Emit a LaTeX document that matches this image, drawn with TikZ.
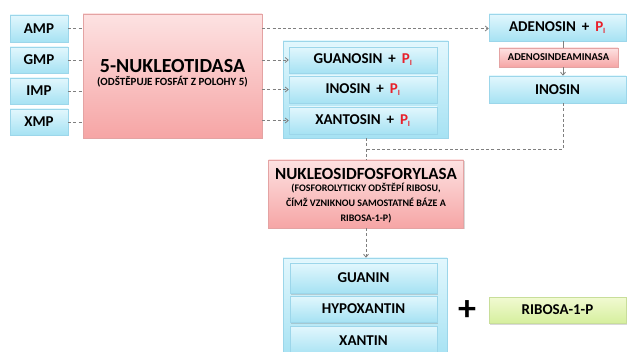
\documentclass[tikz,border=0pt]{standalone}
\usepackage{fontspec}
\setmainfont{Carlito}
\usetikzlibrary{arrows.meta,shadows}
\definecolor{bluetop}{HTML}{E2F7FD}
\definecolor{bluebot}{HTML}{A6E2F3}
\definecolor{blueline}{HTML}{9CD6EA}
\definecolor{pinktop}{HTML}{FDE2E2}
\definecolor{pinkbot}{HTML}{F6A5A5}
\definecolor{pinkline}{HTML}{E4A3A3}
\definecolor{greentop}{HTML}{F1FAD2}
\definecolor{greenbot}{HTML}{D6EF9E}
\definecolor{greenline}{HTML}{C8DE9A}
\definecolor{pired}{HTML}{E8202A}
\definecolor{conn}{HTML}{7F7F7F}
\tikzset{
  boxbase/.style={rectangle, inner sep=0pt, anchor=center, align=center, font=\bfseries, text=black,
    drop shadow={shadow xshift=1.2pt, shadow yshift=-1.5pt, opacity=0.25, fill=black!60}},
  bluebox/.style={boxbase, draw=blueline, line width=0.5pt, top color=bluetop, bottom color=bluebot},
  pinkbox/.style={boxbase, draw=pinkline, line width=0.5pt, top color=pinktop, bottom color=pinkbot},
  greenbox/.style={boxbase, draw=greenline, line width=0.5pt, top color=greentop, bottom color=greenbot},
  lbl/.style={font=\fontsize{15}{17}\selectfont\bfseries},
  dconn/.style={draw=conn, dashed, dash pattern=on 3pt off 2.2pt, line width=0.8pt},
  darr/.style={dconn, -{Straight Barb[length=3pt,width=5pt]}},
}
\newcommand{\pii}{\textcolor{pired}{P\textsubscript{\fontsize{8}{8}\selectfont I}}}
\begin{document}
\begin{tikzpicture}[x=1pt,y=-1pt]
\useasboundingbox (0,0) rectangle (628,352);
% helper: box by corners
\def\bx#1#2#3#4#5#6#7{\node[#1, minimum width={#5-#3}, minimum height={#6-#4}, lbl] (#2) at ({(#3+#5)/2},{(#4+#6)/2}) {#7};}
% left column
\bx{bluebox}{amp}{10}{15}{68}{42}{AMP}
\bx{bluebox}{gmp}{10}{47}{68}{73}{GMP}
\bx{bluebox}{imp}{10}{78}{68}{104}{IMP}
\bx{bluebox}{xmp}{10}{109}{68}{135}{XMP}
% 5-nukleotidasa
\node[pinkbox, minimum width=179, minimum height=124] (nuk) at (172.5,76) {};
\node[font=\fontsize{20}{22}\selectfont\bfseries] (nukt) at (172.5,66) {5-NUKLEOTIDASA};
\node[font=\fontsize{11}{12}\selectfont\bfseries] (nuks) at (172.5,82) {(ODŠTĚPUJE FOSFÁT Z POLOHY 5)};
% container 1
\node[bluebox, minimum width=165, minimum height=97] (c1) at (365.5,89.5) {};
\bx{bluebox}{guo}{289}{47}{437}{73}{GUANOSIN\, +\, \pii}
\bx{bluebox}{ino}{289}{76}{437}{103}{INOSIN\, +\, \pii}
\bx{bluebox}{xao}{289}{107}{437}{134}{XANTOSIN\, +\, \pii}
% right column
\bx{bluebox}{ade}{489}{14}{626}{41}{ADENOSIN\, +\, \pii}
\node[pinkbox, minimum width=119, minimum height=19, font=\fontsize{10.5}{11}\selectfont\bfseries] (ada) at (558.5,57.5) {ADENOSINDEAMINASA};
\bx{bluebox}{ino2}{489}{76}{626}{103}{INOSIN}
% nukleosidfosforylasa
\node[pinkbox, minimum width=195, minimum height=68] (nfp) at (366,194) {};
\node[font=\fontsize{17}{19}\selectfont\bfseries] (nfpt) at (366,174) {NUKLEOSIDFOSFORYLASA};
\node[font=\fontsize{10}{15}\selectfont\bfseries, align=center] (nfps) at (366,203.5) {(FOSFOROLYTICKY ODŠTĚPÍ RIBOSU,\\ČÍMŽ VZNIKNOU SAMOSTATNÉ BÁZE A\\RIBOSA-1-P)};
% container 2
\node[bluebox, minimum width=164, minimum height=100] (c2) at (365,308) {};
\bx{bluebox}{gua}{290}{263}{437}{293}{GUANIN}
\bx{bluebox}{hyp}{290}{296}{437}{322}{HYPOXANTIN}
\bx{bluebox}{xan}{290}{326}{437}{356}{XANTIN}
% plus and ribosa
\node[font=\fontsize{36}{36}\selectfont\bfseries] (plus) at (467,311) {+};
\bx{greenbox}{rib}{489}{297}{626}{323}{RIBOSA-1-P}
% connectors
\draw[dconn] (amp.east) -- (amp.east -| nuk.west);
\draw[dconn] (gmp.east) -- (gmp.east -| nuk.west);
\draw[dconn] (imp.east) -- (imp.east -| nuk.west);
\draw[dconn] (xmp.east) -- (xmp.east -| nuk.west);
\draw[darr] (amp.east -| nuk.east) -- (amp.east -| ade.west);
\draw[darr] (guo.west -| nuk.east) -- (guo.west);
\draw[darr] (ino.west -| nuk.east) -- (ino.west);
\draw[darr] (xao.west -| nuk.east) -- (xao.west);
\coordinate (vx) at (563,0);
\draw[line width=0.8pt, draw=conn] (ade.south -| vx) -- (ada.north -| vx);
\draw[line width=0.8pt, draw=conn, -{Straight Barb[length=3pt,width=5pt]}] (ada.south -| vx) -- (ino2.north -| vx);
\coordinate (jn) at (366,149);
\draw[dconn] (ino2.south -| vx) |- (jn);
\draw[dconn] (c1.south -| jn) -- (nfp.north -| jn);
\draw[darr] (nfp.south -| jn) -- (c2.north -| jn);
\end{tikzpicture}
\end{document}
